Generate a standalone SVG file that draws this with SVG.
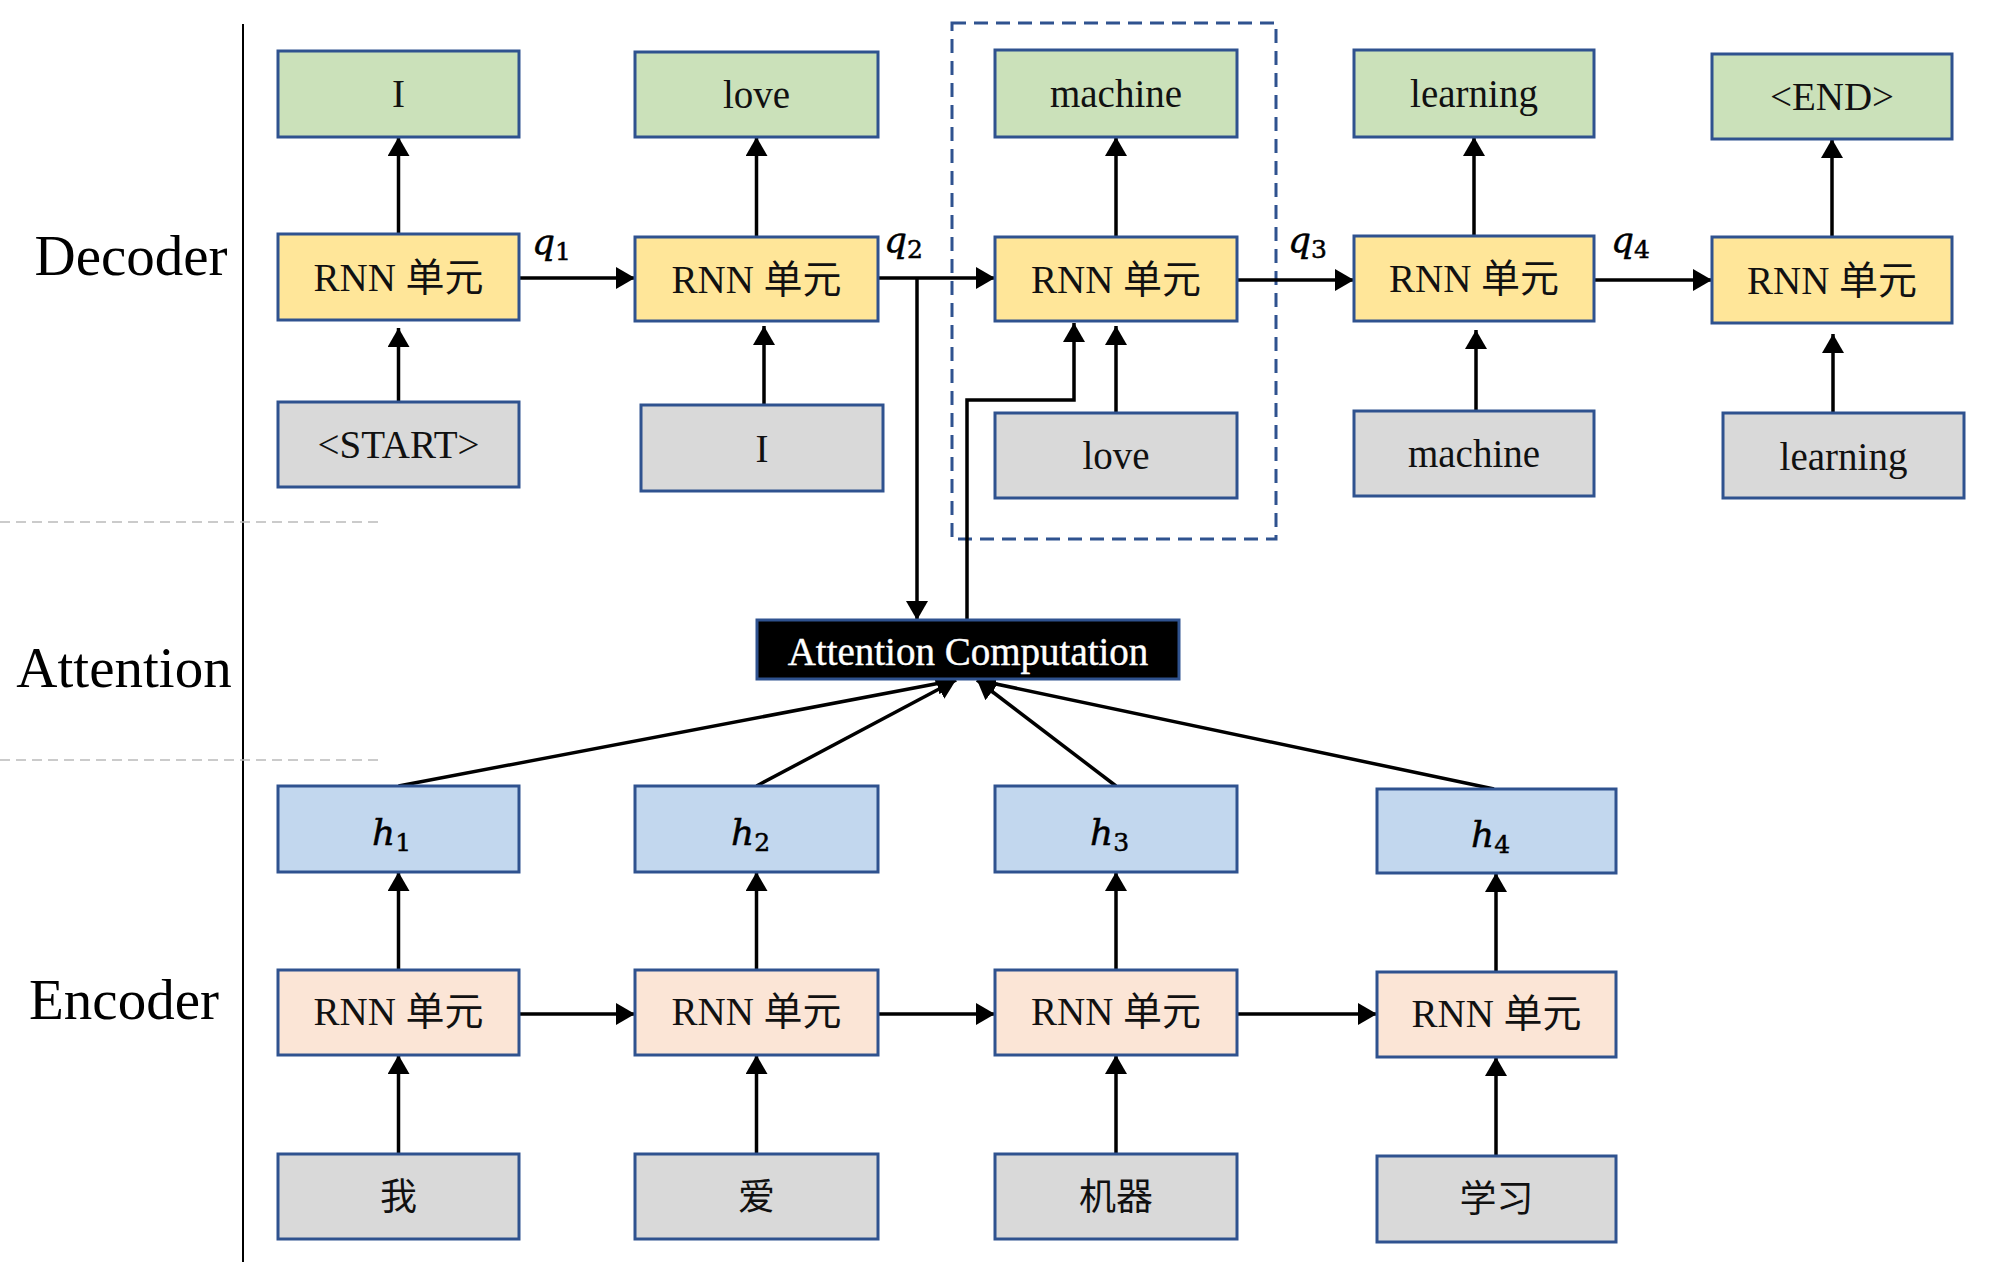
<svg xmlns="http://www.w3.org/2000/svg" width="2000" height="1262" viewBox="0 0 2000 1262">
<style>
.box{stroke:#2F528F;stroke-width:3}
.out{fill:#CBE1BA}
.rnn{fill:#FFE699}
.inp{fill:#D9D9D9}
.hid{fill:#C2D7EE}
.enc{fill:#FBE5D6}
.att{fill:#000000}
.t{font-family:"Liberation Serif","Noto Sans CJK SC",serif;font-size:39px;fill:#111;text-anchor:middle}
.cjk{font-family:"Liberation Serif","Noto Sans CJK SC",sans-serif;font-size:37px;fill:#111;text-anchor:middle}
.sec{font-family:"Liberation Serif",serif;font-size:57px;fill:#000;text-anchor:middle}
.math{font-family:"DejaVu Serif",serif;font-style:italic;font-size:36px;fill:#000;stroke:#000;stroke-width:0.5}
.sub{font-style:normal;font-size:25px}
.wt{font-family:"Liberation Serif",serif;font-size:39px;fill:#fff;text-anchor:middle;stroke:#fff;stroke-width:0.4}
.ca{stroke:#000;stroke-width:3.5;fill:none;marker-end:url(#ah)}
</style>
<defs>
<marker id="ah" markerWidth="19" markerHeight="22" refX="19" refY="11" orient="auto" markerUnits="userSpaceOnUse"><path d="M0,0 L19,11 L0,22 z" fill="#000"/></marker>
</defs>
<rect width="2000" height="1262" fill="#fff"/>
<g id="frame">
<line x1="243" y1="24" x2="243" y2="1262" stroke="#000" stroke-width="2"/>
<line x1="0" y1="522" x2="380" y2="522" stroke="#bbb" stroke-width="1.5" stroke-dasharray="10 6"/>
<line x1="0" y1="760" x2="380" y2="760" stroke="#bbb" stroke-width="1.5" stroke-dasharray="10 6"/>
<rect id="focus" x="952" y="23" width="324" height="516" fill="none" stroke="#2F528F" stroke-width="3" stroke-dasharray="14 8"/>
</g>
<g id="section-labels">
<text class="sec" x="131" y="275">Decoder</text>
<text class="sec" x="124" y="687">Attention</text>
<text class="sec" x="124" y="1019">Encoder</text>
</g>
<g id="connectors">
<line class="ca" x1="398.5" y1="234" x2="398.5" y2="137"/>
<line class="ca" x1="756.5" y1="237" x2="756.5" y2="137"/>
<line class="ca" x1="1116" y1="237" x2="1116" y2="137"/>
<line class="ca" x1="1474" y1="236" x2="1474" y2="137"/>
<line class="ca" x1="1832" y1="237" x2="1832" y2="139"/>
<line class="ca" x1="398.5" y1="402" x2="398.5" y2="328"/>
<line class="ca" x1="764" y1="405" x2="764" y2="326"/>
<line class="ca" x1="1116" y1="413" x2="1116" y2="326"/>
<line class="ca" x1="1476" y1="411" x2="1476" y2="330"/>
<line class="ca" x1="1833" y1="413" x2="1833" y2="334"/>
<line class="ca" x1="519" y1="278" x2="635" y2="278"/>
<line class="ca" x1="878" y1="278" x2="995" y2="278"/>
<line class="ca" x1="1237" y1="280" x2="1354" y2="280"/>
<line class="ca" x1="1594" y1="280" x2="1712" y2="280"/>
<line class="ca" x1="917" y1="278" x2="917" y2="620"/>
<path class="ca" d="M967,620 V400 H1074 V323"/>
<line class="ca" x1="398.5" y1="970" x2="398.5" y2="872"/>
<line class="ca" x1="756.5" y1="970" x2="756.5" y2="872"/>
<line class="ca" x1="1116" y1="970" x2="1116" y2="872"/>
<line class="ca" x1="1496" y1="972" x2="1496" y2="873"/>
<line class="ca" x1="398.5" y1="1154" x2="398.5" y2="1055"/>
<line class="ca" x1="756.5" y1="1154" x2="756.5" y2="1055"/>
<line class="ca" x1="1116" y1="1154" x2="1116" y2="1055"/>
<line class="ca" x1="1496" y1="1156" x2="1496" y2="1057"/>
<line class="ca" x1="519" y1="1014" x2="635" y2="1014"/>
<line class="ca" x1="878" y1="1014" x2="995" y2="1014"/>
<line class="ca" x1="1237" y1="1014" x2="1377" y2="1014"/>
<line class="ca" x1="398.5" y1="786" x2="956" y2="680"/>
<line class="ca" x1="756.5" y1="786" x2="956" y2="680"/>
<line class="ca" x1="1116" y1="786" x2="977" y2="680"/>
<line class="ca" x1="1494" y1="789" x2="977" y2="680"/>
<text class="math" x="532" y="254">q<tspan class="sub" dy="6">1</tspan></text>
<text class="math" x="884" y="252">q<tspan class="sub" dy="6">2</tspan></text>
<text class="math" x="1288" y="252">q<tspan class="sub" dy="6">3</tspan></text>
<text class="math" x="1611" y="252">q<tspan class="sub" dy="6">4</tspan></text>
</g>
<g id="dec-out-1"><rect class="box out" x="278" y="51" width="241" height="86"/><text class="t" x="398.5" y="107">I</text></g>
<g id="dec-out-2"><rect class="box out" x="635" y="52" width="243" height="85"/><text class="t" x="756.5" y="108">love</text></g>
<g id="dec-out-3"><rect class="box out" x="995" y="50" width="242" height="87"/><text class="t" x="1116" y="107">machine</text></g>
<g id="dec-out-4"><rect class="box out" x="1354" y="50" width="240" height="87"/><text class="t" x="1474" y="107">learning</text></g>
<g id="dec-out-5"><rect class="box out" x="1712" y="54" width="240" height="85"/><text class="t" x="1832" y="110">&lt;END&gt;</text></g>
<g id="dec-rnn-1"><rect class="box rnn" x="278" y="234" width="241" height="86"/><text class="t" x="398.5" y="291">RNN 单元</text></g>
<g id="dec-rnn-2"><rect class="box rnn" x="635" y="237" width="243" height="84"/><text class="t" x="756.5" y="293">RNN 单元</text></g>
<g id="dec-rnn-3"><rect class="box rnn" x="995" y="237" width="242" height="84"/><text class="t" x="1116" y="293">RNN 单元</text></g>
<g id="dec-rnn-4"><rect class="box rnn" x="1354" y="236" width="240" height="85"/><text class="t" x="1474" y="292">RNN 单元</text></g>
<g id="dec-rnn-5"><rect class="box rnn" x="1712" y="237" width="240" height="86"/><text class="t" x="1832" y="294">RNN 单元</text></g>
<g id="dec-in-1"><rect class="box inp" x="278" y="402" width="241" height="85"/><text class="t" x="398.5" y="458">&lt;START&gt;</text></g>
<g id="dec-in-2"><rect class="box inp" x="641" y="405" width="242" height="86"/><text class="t" x="762" y="462">I</text></g>
<g id="dec-in-3"><rect class="box inp" x="995" y="413" width="242" height="85"/><text class="t" x="1116" y="469">love</text></g>
<g id="dec-in-4"><rect class="box inp" x="1354" y="411" width="240" height="85"/><text class="t" x="1474" y="467">machine</text></g>
<g id="dec-in-5"><rect class="box inp" x="1723" y="413" width="241" height="85"/><text class="t" x="1843.5" y="470">learning</text></g>
<g id="attention"><rect class="box att" x="757" y="620" width="422" height="59"/><text class="wt" x="968" y="665">Attention Computation</text></g>
<g id="enc-h-1"><rect class="box hid" x="278" y="786" width="241" height="86"/><text class="math" x="372" y="845">h<tspan class="sub" dy="6">1</tspan></text></g>
<g id="enc-h-2"><rect class="box hid" x="635" y="786" width="243" height="86"/><text class="math" x="731" y="845">h<tspan class="sub" dy="6">2</tspan></text></g>
<g id="enc-h-3"><rect class="box hid" x="995" y="786" width="242" height="86"/><text class="math" x="1090" y="845">h<tspan class="sub" dy="6">3</tspan></text></g>
<g id="enc-h-4"><rect class="box hid" x="1377" y="789" width="239" height="84"/><text class="math" x="1471" y="847">h<tspan class="sub" dy="6">4</tspan></text></g>
<g id="enc-rnn-1"><rect class="box enc" x="278" y="970" width="241" height="85"/><text class="t" x="398.5" y="1025">RNN 单元</text></g>
<g id="enc-rnn-2"><rect class="box enc" x="635" y="970" width="243" height="85"/><text class="t" x="756.5" y="1025">RNN 单元</text></g>
<g id="enc-rnn-3"><rect class="box enc" x="995" y="970" width="242" height="85"/><text class="t" x="1116" y="1025">RNN 单元</text></g>
<g id="enc-rnn-4"><rect class="box enc" x="1377" y="972" width="239" height="85"/><text class="t" x="1496.5" y="1027">RNN 单元</text></g>
<g id="enc-in-1"><rect class="box inp" x="278" y="1154" width="241" height="85"/><text class="cjk" x="398.5" y="1210">我</text></g>
<g id="enc-in-2"><rect class="box inp" x="635" y="1154" width="243" height="85"/><text class="cjk" x="756.5" y="1210">爱</text></g>
<g id="enc-in-3"><rect class="box inp" x="995" y="1154" width="242" height="85"/><text class="cjk" x="1116" y="1210">机器</text></g>
<g id="enc-in-4"><rect class="box inp" x="1377" y="1156" width="239" height="86"/><text class="cjk" x="1496.5" y="1212">学习</text></g>
</svg>
